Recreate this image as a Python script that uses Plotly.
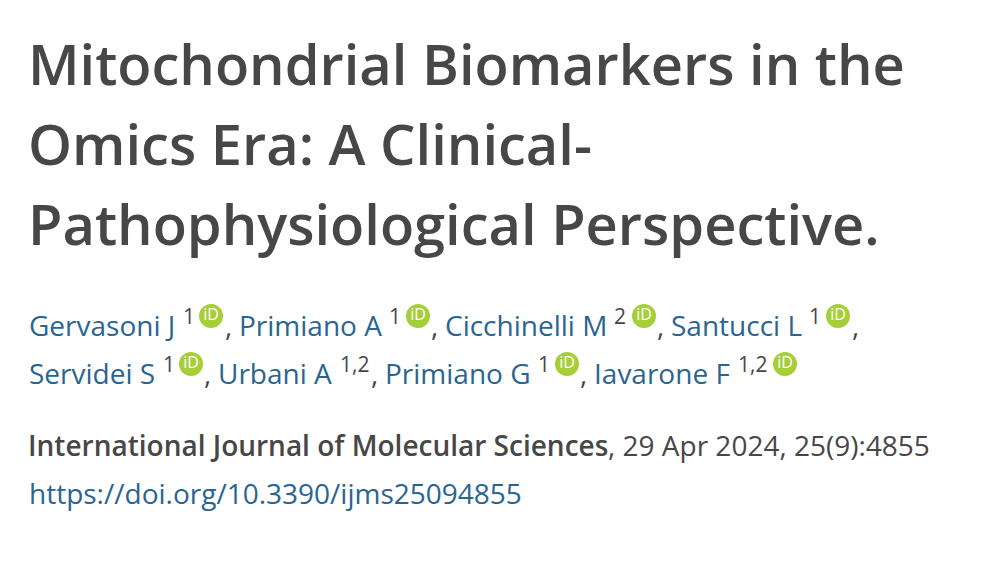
import plotly.graph_objects as go

FONT = "Open Sans"
DARK = "#474747"
BLUE = "#2a6592"
GREEN = "#a6ce39"

# text blocks, as (text, left x, middle y)
title_lines = ["Mitochondrial Biomarkers in the", "Omics Era: A Clinical-", "Pathophysiological Perspective."]
title_x = [28, 28, 28]
title_y = [62.5, 142.5, 222.5]

author_names = ["Gervasoni J", "Primiano A", "Cicchinelli M", "Santucci L",
	"Servidei S", "Urbani A", "Primiano G", "Iavarone F"]
author_x = [28.5, 238.5, 444.5, 670.5, 28.5, 217.5, 384.5, 593.5]
author_y = [325, 325, 325, 325, 373, 373, 373, 373]

sup_labels = ["1", "1", "2", "1", "1", "1,2", "1", "1,2"]
sup_x = [182.5, 388.5, 613.5, 808.5, 162.5, 339.5, 537.5, 737.5]
sup_y = [316, 316, 316, 316, 364, 364, 364, 364]

orcid_x = [211, 418, 644, 838, 191, 567, 785]
orcid_y = [316, 316, 316, 316, 364, 364, 364]

comma_x = [224.5, 430.5, 656.5, 851.5, 203.5, 370.5, 579.5]
comma_y = [325, 325, 325, 325, 373, 373, 373]

journal = "International Journal of Molecular Sciences"
citation = ", 29 Apr 2024, 25(9):4855"
doi = "https://doi.org/10.3390/ijms25094855"

fig = go.Figure()

def add_text(txt, x, y, size, color, weight=400):
	fig.add_annotation(
		x=x, y=y, xref="x", yref="y",
		text=txt,
		showarrow=False, xanchor="left", yanchor="middle",
		borderpad=0, borderwidth=0,
		font=dict(family=FONT, size=size, color=color, weight=weight),
	)

for t, x, y in zip(title_lines, title_x, title_y):
	add_text(t, x, y, 56, DARK, weight=600)
for t, x, y in zip(author_names, author_x, author_y):
	add_text(t, x, y, 28, BLUE)
for t, x, y in zip(sup_labels, sup_x, sup_y):
	add_text(t, x, y, 21, DARK)
for x, y in zip(comma_x, comma_y):
	add_text(",", x, y, 28, DARK)

add_text(journal, 28, 445, 28, DARK, weight=600)
add_text(citation, 607.5, 445, 28, DARK)
add_text(doi, 28.5, 493, 28, BLUE)

# orcid badges
fig.add_trace(go.Scatter(
	x=orcid_x, y=orcid_y, mode="markers+text",
	marker=dict(size=24, color=GREEN, line=dict(width=0)),
	text=["iD"] * len(orcid_x), textposition="middle center",
	textfont=dict(family=FONT, size=16, color="white"),
	showlegend=False, hoverinfo="skip",
))

fig.update_layout(
	width=982, height=562, autosize=False,
	margin=dict(t=0, l=0, r=0, b=0),
	paper_bgcolor="white", plot_bgcolor="white",
	xaxis=dict(range=[0, 982], visible=False),
	yaxis=dict(range=[562, 0], visible=False),
)
fig.write_html("out.html", config=dict(displayModeBar=False),
	post_script="document.body.style.margin='0';")
